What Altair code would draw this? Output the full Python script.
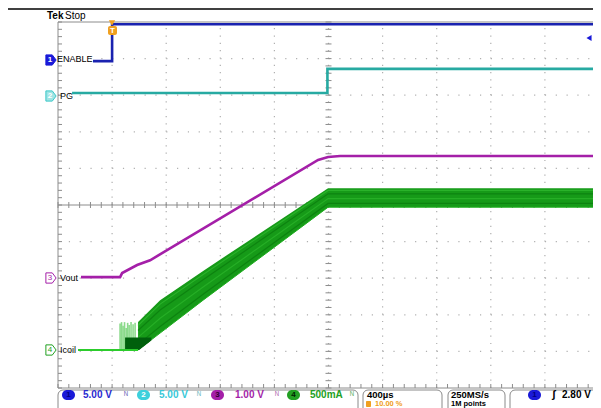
import altair as alt
import pandas as pd
import numpy as np

# ---------------- scope settings ----------------
T0, T1 = -400, 3600          # time axis (µs): 400 µs/div, trigger at 10 %
D0, D1 = -5, 5               # vertical divisions
GW, H = 541, 366             # full graticule size in px
PX_T = GW / (T1 - T0)        # px per µs
PX_D = H / (D1 - D0)         # px per div
W = 535                      # visible part of the graticule (page is 601 px wide)
T_VIS = T0 + W / PX_T

# channel ground offsets (div) and scales (unit/div)
ch1_off, ch1_scale = 3.93, 5.0    # ENABLE 5.00 V/div
ch2_off, ch2_scale = 3.06, 5.0    # PG 5.00 V/div
ch3_off, ch3_scale = -1.97, 1.0   # Vout 1.00 V/div
ch4_off, ch4_scale = -3.96, 0.5   # Icoil 500 mA/div

# ---------------- waveform data ----------------
enable_t = [-141, 0, 0, 3600]
enable_v = [0, 0, 5.05, 5.05]

pg_t = [-296, 1592, 1592, 3600]
pg_v = [0, 0, 3.3, 3.3]

vout_t = [-230, 59, 74, 185, 281, 1523, 1597, 1686, 3600]
vout_v = [0, 0, 0.11, 0.33, 0.46, 3.2, 3.28, 3.31, 3.31]

icoil_t = [-252, 192]
icoil_v = [0, 0]

band_t = [192, 355, 673, 1597, 3600]
band_lo = [0, 0.23, 0.68, 1.95, 1.95]
band_hi = [0.38, 0.68, 1.08, 2.21, 2.21]

spike_t = [59, 70, 81, 92, 104, 115, 126, 140, 155, 170]
spike_hi = [0.36, 0.38, 0.33, 0.38, 0.30, 0.37, 0.34, 0.38, 0.35, 0.37]

dark_t = [96, 200, 290]
dark_lo = [0, 0, 0.13]
dark_hi = [0.17, 0.17, 0.17]

# ---------------- helpers ----------------
def X(px):
    return (px - 58) / PX_T + T0

def Y(py):
    return D1 - (py - 22) / PX_D

xs = alt.Scale(domain=[T0, T_VIS], nice=False, zero=False)
ys = alt.Scale(domain=[D0, D1], nice=False, zero=False)

def xenc(f="x"):
    return alt.X(f + ":Q", scale=xs, axis=None)

def yenc(f="y"):
    return alt.Y(f + ":Q", scale=ys, axis=None)

def trace_df(t, v, off, sc):
    return pd.DataFrame({"x": t, "y": [off + a / sc for a in v], "i": range(len(t))})

def band_df(t, lo, hi, off, sc):
    return pd.DataFrame({"x": t, "y": [off + a / sc for a in lo], "y2": [off + a / sc for a in hi]})

def segs(rows, color, width=1.0, dash=None, opacity=1):
    df = pd.DataFrame(rows, columns=["x", "y", "x2", "y2"])
    kw = dict(color=color, strokeWidth=width, opacity=opacity)
    if dash is not None:
        kw["strokeDash"] = dash
    return alt.Chart(df).mark_rule(**kw).encode(
        x=xenc(), y=yenc(), x2="x2:Q", y2="y2:Q")

layers = []

# ---------------- graticule ----------------
grid_col = "#b0b0b0"
tick_col = "#8c8c8c"
vdots = [(T0 + 400 * k, D0, T0 + 400 * k, D1) for k in range(1, 10)]
hdots = [(T0, d, T1, d) for d in range(-4, 5) if d != 0]
layers.append(segs(vdots, grid_col, 1.2, [1.2, PX_D / 5 - 1.2]))
layers.append(segs(hdots, grid_col, 1.2, [1.2, 400 / 5 * PX_T - 1.2]))
borders = [(T0, D0, T0, D1), (T0, D0, T1, D0), (T0, D1, T1, D1), (T1, D0, T1, D1), (T0, 0, T1, 0)]
layers.append(segs(borders, tick_col, 1.0))
ticks = []
for d in np.arange(D0, D1 + 0.01, 0.2):
    ticks.append((T0, d, T0 + 4 / PX_T, d))
    ticks.append((1600 - 3 / PX_T, d, 1600 + 3 / PX_T, d))
for t in np.arange(T0, T1 + 0.1, 80):
    ticks.append((t, D0, t, D0 + 4 / PX_D))
    ticks.append((t, -3 / PX_D, t, 3 / PX_D))
layers.append(segs(ticks, tick_col, 1.0))

# ---------------- waveforms ----------------
green_line = "#2ccc2c"
spikes = [(t, ch4_off, t, ch4_off + h / ch4_scale) for t, h in zip(spike_t, spike_hi)]
layers.append(segs(spikes, "#7ed67e", 1.6, opacity=0.9))
layers.append(alt.Chart(band_df(band_t, band_lo, band_hi, ch4_off, ch4_scale))
              .mark_area(color="#169a18", opacity=1, line={"color": "#1fae1f", "strokeWidth": 1})
              .encode(x=xenc(), y=yenc(), y2="y2:Q"))
# texture stripes inside the switching band
for frac, col in [(0.2, "#0d8310"), (0.45, "#26ae26"), (0.7, "#0d8310"), (0.88, "#2ab22a")]:
    mid = [a + frac * (b - a) for a, b in zip(band_lo, band_hi)]
    layers.append(alt.Chart(trace_df(band_t, mid, ch4_off, ch4_scale))
                  .mark_line(color=col, strokeWidth=1.2).encode(x=xenc(), y=yenc(), order="i:Q"))
layers.append(alt.Chart(band_df(dark_t, dark_lo, dark_hi, ch4_off, ch4_scale))
              .mark_area(color="#00600c", opacity=1).encode(x=xenc(), y=yenc(), y2="y2:Q"))
layers.append(alt.Chart(trace_df(icoil_t, icoil_v, ch4_off, ch4_scale))
              .mark_line(color=green_line, strokeWidth=2).encode(x=xenc(), y=yenc(), order="i:Q"))
layers.append(alt.Chart(trace_df(vout_t, vout_v, ch3_off, ch3_scale))
              .mark_line(color="#a41fa8", strokeWidth=2.6).encode(x=xenc(), y=yenc(), order="i:Q"))
layers.append(alt.Chart(trace_df(pg_t, pg_v, ch2_off, ch2_scale))
              .mark_line(color="#27aaa2", strokeWidth=2.6).encode(x=xenc(), y=yenc(), order="i:Q"))
layers.append(alt.Chart(trace_df(enable_t, enable_v, ch1_off, ch1_scale))
              .mark_line(color="#1a22b0", strokeWidth=2.6).encode(x=xenc(), y=yenc(), order="i:Q"))

# ---------------- text / decorations ----------------
FONT = "Liberation Sans"

def text(px, py, s, color="#000000", size=9, weight="normal", align="left", font=FONT):
    df = pd.DataFrame({"x": [X(px)], "y": [Y(py)], "s": [s]})
    return alt.Chart(df).mark_text(color=color, fontSize=size, fontWeight=weight, align=align,
                                   baseline="middle", font=font).encode(x=xenc(), y=yenc(), text="s:N")

def rect(px1, py1, px2, py2, fill, stroke=None, radius=0, sw=1):
    df = pd.DataFrame({"x": [X(px1)], "y": [Y(py1)], "x2": [X(px2)], "y2": [Y(py2)]})
    kw = dict(fill=fill, cornerRadius=radius)
    if stroke:
        kw.update(stroke=stroke, strokeWidth=sw)
    return alt.Chart(df).mark_rect(**kw).encode(x=xenc(), y=yenc(), x2="x2:Q", y2="y2:Q")

def tag(px, py, fill, stroke):
    df = pd.DataFrame({"x": [X(px)], "y": [Y(py)]})
    return alt.Chart(df).mark_point(shape="M-1,-1L0.25,-1L1,0L0.25,1L-1,1Z", size=105, filled=True,
                                    fill=fill, stroke=stroke, strokeWidth=1, opacity=1).encode(x=xenc(), y=yenc())

# top header line and "Tek Stop"
layers.append(segs([(X(0), Y(9), X(601), Y(9))], "#000000", 1.5))
layers.append(text(47, 16, "Tek", size=10, weight="bold"))
layers.append(text(65, 16, "Stop", size=10))

# channel tags and labels
layers.append(tag(51, 60, "#1a1ad8", "#1a1ad8"))
layers.append(text(50, 60, "1", "#ffffff", 8, "bold", "center"))
layers.append(text(57, 59, "ENABLE", size=9))
layers.append(tag(51, 96, "#9ee4e4", "#3cc8c8"))
layers.append(text(50, 96, "2", "#ffffff", 8, "bold", "center"))
layers.append(text(60, 96, "PG", size=9))
layers.append(tag(51, 278, "#ffffff", "#a41fa8"))
layers.append(text(50, 278, "3", "#a41fa8", 8, "normal", "center"))
layers.append(text(60, 278, "Vout", size=9))
layers.append(tag(51, 350, "#ffffff", "#22a022"))
layers.append(text(50, 350, "4", "#22a022", 8, "normal", "center"))
layers.append(text(60, 350, "Icoil", size=9))

# trigger position marker (T) and trigger level arrow
trig = pd.DataFrame({"x": [X(112)], "y": [Y(23)]})
layers.append(alt.Chart(trig).mark_point(shape="triangle-down", size=40, filled=True, color="#f0a020",
                                         opacity=1).encode(x=xenc(), y=yenc()))
layers.append(rect(108, 26, 117, 35, "#f0a020", radius=2))
layers.append(text(112.5, 30.5, "T", "#ffffff", 8, "bold", "center"))
lvl = pd.DataFrame({"x": [X(589)], "y": [Y(38)]})
layers.append(alt.Chart(lvl).mark_point(shape="triangle-left", size=35, filled=True, color="#1a1ad8",
                                        opacity=1).encode(x=xenc(), y=yenc()))

# status bar
layers.append(rect(58, 390, 358, 414, "#ffffff", "#8a8a8a", 5))
layers.append(rect(363, 390, 442, 414, "#ffffff", "#8a8a8a", 5))
layers.append(rect(448, 390, 505, 414, "#ffffff", "#8a8a8a", 5))
layers.append(rect(510, 390, 612, 414, "#ffffff", "#8a8a8a", 5))

SB = 395
SB2 = 404.2
layers.append(rect(62, SB - 5, 75, SB + 5, "#1a1ad8", radius=5))
layers.append(text(68.5, SB, "1", "#000080", 8, "bold", "center"))
layers.append(text(83, SB, "5.00 V", "#2a2ad0", 10, "bold"))
layers.append(text(124, SB, "ᴺ", "#6a6ab8", 9))
layers.append(rect(137, SB - 5, 150, SB + 5, "#3cd0dc", radius=5))
layers.append(text(143.5, SB, "2", "#ffffff", 8, "bold", "center"))
layers.append(text(159, SB, "5.00 V", "#38c8d8", 10, "bold"))
layers.append(text(197, SB, "ᴺ", "#6ab8c0", 9))
layers.append(rect(211, SB - 5, 224, SB + 5, "#a41fa8", radius=5))
layers.append(text(217.5, SB, "3", "#300030", 8, "bold", "center"))
layers.append(text(235, SB, "1.00 V", "#a41fa8", 10, "bold"))
layers.append(text(275, SB, "ᴺ", "#b070b0", 9))
layers.append(rect(287, SB - 5, 300, SB + 5, "#22a022", radius=5))
layers.append(text(293.5, SB, "4", "#002000", 8, "bold", "center"))
layers.append(text(310, SB, "500mA", "#22a022", 10, "bold"))
layers.append(text(350, SB, "ᴺ", "#60b060", 9))

layers.append(text(367, SB, "400µs", "#000000", 9.5, "bold"))
layers.append(rect(366, 401, 371, 407, "#f0a020", radius=1))
layers.append(text(375, SB2, "10.00 %", "#f0a020", 7.5, "bold"))
layers.append(text(451, SB, "250MS/s", "#000000", 9.5, "bold"))
layers.append(text(451, SB2, "1M points", "#000000", 7.5, "bold"))
layers.append(rect(528, SB - 5, 541, SB + 5, "#1a1ad8", radius=5))
layers.append(text(534.5, SB, "1", "#000080", 8, "bold", "center"))
layers.append(text(552, SB, "ʃ", "#000000", 11, "bold"))
layers.append(text(562, SB, "2.80 V", "#000000", 10, "bold"))

chart = alt.layer(*layers).properties(
    width=W, height=H,
    autosize=alt.AutoSizeParams(type="none"),
    padding={"left": 50, "top": 14, "right": 0, "bottom": 20},
    background="#ffffff",
).configure_view(stroke=None)

chart.save("out.html", embed_options={"renderer": "svg", "actions": False})
